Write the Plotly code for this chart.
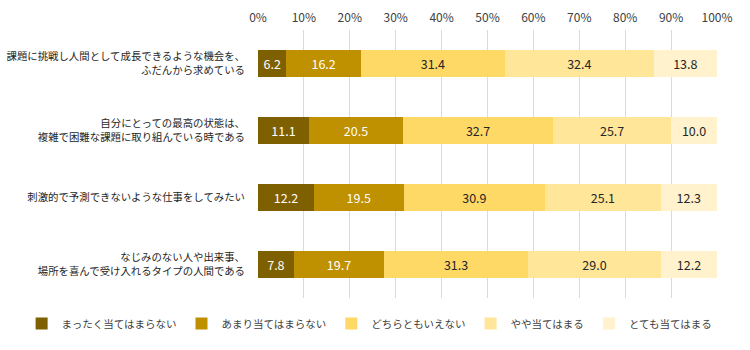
import plotly.graph_objects as go

# Survey statements (one horizontal bar each, top to bottom)
statements = [
    "課題に挑戦し人間として成長できるような機会を、<br>ふだんから求めている",
    "自分にとっての最高の状態は、<br>複雑で困難な課題に取り組んでいる時である",
    "刺激的で予測できないような仕事をしてみたい",
    "なじみのない人や出来事、<br>場所を喜んで受け入れるタイプの人間である",
]

# Response categories and their shares (%)
responses = ["まったく当てはまらない", "あまり当てはまらない", "どちらともいえない", "やや当てはまる", "とても当てはまる"]
not_at_all = [6.2, 11.1, 12.2, 7.8]
not_really = [16.2, 20.5, 19.5, 19.7]
neutral = [31.4, 32.7, 30.9, 31.3]
somewhat = [32.4, 25.7, 25.1, 29.0]
very_much = [13.8, 10.0, 12.3, 12.2]

tick_vals = [0, 10, 20, 30, 40, 50, 60, 70, 80, 90, 100]
tick_text = ["0%", "10%", "20%", "30%", "40%", "50%", "60%", "70%", "80%", "90%", "100%"]

colors = ["#7F6000", "#BF9000", "#FFD966", "#FFE699", "#FFF2CC"]
text_colors = ["#FFFFFF", "#FFFFFF", "#262626", "#262626", "#262626"]

font_family = "Noto Sans CJK JP, Noto Sans, sans-serif"

fig = go.Figure()
for name, vals, col, tcol in zip(responses, [not_at_all, not_really, neutral, somewhat, very_much], colors, text_colors):
    fig.add_trace(go.Bar(
        y=statements,
        x=vals,
        name=name,
        orientation="h",
        marker=dict(color=col, line=dict(width=0)),
        width=0.4,
        text=[f"{v:.1f}" for v in vals],
        textposition="inside",
        insidetextanchor="middle",
        textangle=0,
        textfont=dict(color=tcol, size=12.5, family=font_family),
        hoverinfo="skip",
    ))

fig.update_layout(
    barmode="stack",
    width=750,
    height=350,
    margin=dict(l=258, r=33, t=30, b=45),
    paper_bgcolor="white",
    plot_bgcolor="white",
    font=dict(family=font_family, size=12, color="#404040"),
    xaxis=dict(
        range=[0, 100],
        side="top",
        tickvals=tick_vals,
        ticktext=tick_text,
        showgrid=True,
        gridcolor="#D9D9D9",
        gridwidth=1,
        zeroline=False,
        showline=False,
        ticks="",
        automargin=False,
        ticklabelstandoff=5,
        tickfont=dict(size=12, color="#404040"),
        fixedrange=True,
    ),
    yaxis=dict(
        autorange="reversed",
        showgrid=False,
        showline=False,
        ticks="",
        automargin=False,
        ticklabelstandoff=12,
        tickfont=dict(size=10.4, color="#262626"),
        fixedrange=True,
    ),
    legend=dict(
        orientation="h",
        xref="paper",
        x=-0.515,
        xanchor="left",
        yref="paper",
        y=-0.095,
        yanchor="middle",
        font=dict(size=10.5, color="#404040"),
        itemwidth=30,
        traceorder="normal",
    ),
    showlegend=True,
)

fig.write_html("out.html")
